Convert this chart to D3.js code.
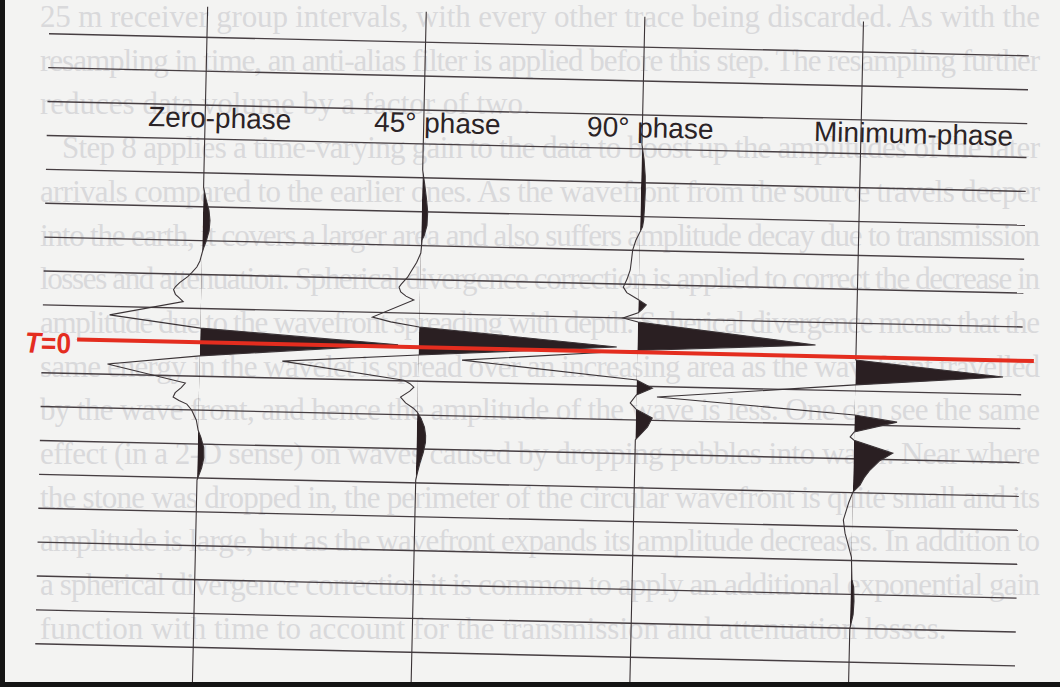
<!DOCTYPE html>
<html><head><meta charset="utf-8">
<script src="https://cdn.jsdelivr.net/npm/d3@7/dist/d3.min.js"></script>
<style>html,body{margin:0;padding:0;background:#f3f3f2;} svg{display:block}</style>
</head><body>
<svg id="chart" width="1060" height="687"></svg>
<script>
// ---------------- data ----------------
const traceNames = ["Zero-phase", "45° phase", "90° phase", "Minimum-phase"];
const timingLinesMs = [-90,-80,-70,-60,-50,-40,-30,-20,-10,10,20,30,40,50,60,70,80,90];
const referenceTimeMs = 0;

// time (ms) and normalised amplitude samples
const zeroPhaseTime = [-99,-45.8,-42,-39,-36,-33,-30,-28,-26.4,-24,-22.2,-20.5,-19.3,-17.5,-16.3,-15.4,-14,-13,-11.9,-7.5,-4.2,-0.6,4.0,7.0,12.1,13.5,15,16.3,17.3,18.3,20,23,25.9,28,31,34,37,39,40.6,101];
const zeroPhaseAmp  = [0,0,0.015,0.03,0.036,0.033,0.02,0.008,0,-0.01,-0.025,-0.05,-0.07,-0.11,-0.13,-0.14,-0.13,-0.11,-0.09,-0.46,0,1.0,0,-0.465,-0.07,-0.09,-0.12,-0.13,-0.1,-0.06,-0.035,-0.01,0,0.015,0.03,0.032,0.022,0.01,0,0];

const phase45Time = [-99,-52.3,-48,-44,-40,-36,-33,-31.7,-27.8,-25,-22.5,-20.6,-18.5,-17.6,-16.2,-15,-13.9,-8.6,-7.3,-6.0,-1.4,2.3,5.0,9.8,10.8,11.8,13,14.8,16.5,18,19.1,21,23.5,26,28,31,34,37,39.2,101];
const phase45Amp  = [0,0,0.012,0.022,0.03,0.028,0.015,0.005,0,-0.02,-0.045,-0.064,-0.095,-0.106,-0.097,-0.07,-0.03,-0.237,-0.144,0,1.0,0,-0.687,-0.071,-0.04,-0.02,-0.04,-0.086,-0.06,-0.02,0,0.02,0.038,0.045,0.045,0.035,0.02,0.008,0,0];

const phase90Time = [-99,-61.2,-57,-52,-47.9,-43,-39,-37,-35.5,-33,-30.1,-27,-24.2,-21.5,-19.1,-17.5,-16.3,-15.5,-14.0,-12.7,-11.6,-10.0,-8.9,-3.3,-0.5,3.5,8.2,10.5,12.6,15.0,16.8,19.3,22,25.9,101];
const phase90Amp  = [0,0,0.012,0.02,0.022,0.02,0.017,0.012,0,-0.02,-0.035,-0.04,-0.045,-0.06,-0.078,-0.06,-0.025,0,0.04,0.02,0,-0.076,0,0.899,0,-0.884,0,0.08,0,-0.03,0,0.083,0.06,0,0];

const minPhaseTime = [-99,0.86,4.9,8.2,13.1,17.1,18.9,22.1,23.6,24.5,28.1,30.5,33.2,35.5,37.7,39.8,43,48.1,52,55,59,65.5,68,72,76,80.2,101];
const minPhaseAmp  = [0,0,0.745,0,-1.0,0,0.215,0,-0.02,0,0.197,0.13,0.084,0.055,0.035,0,-0.02,-0.045,-0.035,-0.02,0,0.005,0.015,0.018,0.015,0,0];

// faint text showing through the page
const showThroughText = [
  "25 m receiver group intervals, with every other trace being discarded. As with the",
  "resampling in time, an anti-alias filter is applied before this step. The resampling further",
  "reduces data volume by a factor of two.",
  "Step 8 applies a time-varying gain to the data to boost up the amplitudes of the later",
  "arrivals compared to the earlier ones. As the wavefront from the source travels deeper",
  "into the earth, it covers a larger area and also suffers amplitude decay due to transmission",
  "losses and attenuation. Spherical divergence correction is applied to correct the decrease in",
  "amplitude due to the wavefront spreading with depth. Spherical divergence means that the",
  "same energy in the wavelet is spread over an increasing area as the wavefront travelled",
  "by the wave front, and hence the amplitude of the wave is less. One can see the same",
  "effect (in a 2-D sense) on waves caused by dropping pebbles into water. Near where",
  "the stone was dropped in, the perimeter of the circular wavefront is quite small and its",
  "amplitude is large, but as the wavefront expands its amplitude decreases. In addition to",
  "a spherical divergence correction it is common to apply an additional exponential gain",
  "function with time to account for the transmission and attenuation losses."
];

// ---------------- drawing ----------------
const svg = d3.select("#chart");
svg.append("rect").attr("width",1060).attr("height",687).attr("fill","#f3f3f2");

const bg = svg.append("g")
  .attr("font-family","'Liberation Serif','DejaVu Serif',serif")
  .attr("font-size",31).attr("fill","#d9d9db");
showThroughText.forEach((line,i)=>{
  const t = bg.append("text").attr("x", i===3 ? 62 : 40).attr("y", 27 + i*43.7).text(line);
  if (i!==2 && i!==14) t.attr("textLength", i===3 ? 978 : 1000).attr("lengthAdjust","spacing");
});

const y = d3.scaleLinear().domain([-100,100]).range([11,689]);
const xTrace = d3.scalePoint().domain(traceNames).range([200,856]);
const amp = d3.scaleLinear().domain([0,1]).range([0,198]);

const g = svg.append("g").attr("transform","rotate(1.29,540,350)");

// timing lines
g.selectAll("line.grid").data(timingLinesMs).join("line")
  .attr("class","grid")
  .attr("x1",42).attr("x2",1022)
  .attr("y1",d=>y(d)).attr("y2",d=>y(d))
  .attr("stroke","#463e42").attr("stroke-width",1.4);

const traces = [
  {name:traceNames[0], time:zeroPhaseTime, amp:zeroPhaseAmp},
  {name:traceNames[1], time:phase45Time, amp:phase45Amp},
  {name:traceNames[2], time:phase90Time, amp:phase90Amp},
  {name:traceNames[3], time:minPhaseTime, amp:minPhaseAmp}
];

const defs = svg.append("defs");
traces.forEach((tr,i)=>{
  const base = xTrace(tr.name);
  const pts = tr.time.map((t,j)=>[t, tr.amp[j]]);
  defs.append("clipPath").attr("id","pos"+i)
    .append("rect").attr("x",base).attr("y",-50).attr("width",1200-base).attr("height",800);
  const area = d3.area().y(d=>y(d[0])).x0(base).x1(d=>base+amp(d[1]));
  g.append("path").attr("d",area(pts)).attr("clip-path",`url(#pos${i})`)
    .attr("fill","#2a1f22");
  const line = d3.line().y(d=>y(d[0])).x(d=>base+amp(d[1]));
  g.append("path").attr("d",line(pts)).attr("fill","none")
    .attr("stroke","#3a3336").attr("stroke-width",1.1);
});

// labels
const labelX = [143, 369, 582, 809];
g.selectAll("text.lab").data(traceNames).join("text")
  .attr("class","lab")
  .attr("x",(d,i)=>labelX[i]).attr("y",135)
  .attr("font-family","'Liberation Sans',Arial,sans-serif")
  .attr("font-size",28).attr("fill","#2b2326")
  .text(d=>d);

// T = 0 line
g.append("line").attr("x1",77).attr("x2",1034)
  .attr("y1",y(referenceTimeMs)).attr("y2",y(referenceTimeMs))
  .attr("stroke","#e42d1f").attr("stroke-width",4);
const tl = g.append("text").attr("x",25).attr("y",364)
  .attr("font-family","'Liberation Sans',Arial,sans-serif")
  .attr("font-weight","bold").attr("font-size",29).attr("fill","#e42d1f")
  .attr("textLength",46).attr("lengthAdjust","spacingAndGlyphs");
tl.append("tspan").attr("font-style","italic").text("T");
tl.append("tspan").text("=0");

// frame
svg.append("rect").attr("x",0).attr("y",0).attr("width",5).attr("height",687).attr("fill","#141414");
svg.append("rect").attr("x",0).attr("y",682).attr("width",1060).attr("height",5).attr("fill","#141414");
</script>
</body></html>
